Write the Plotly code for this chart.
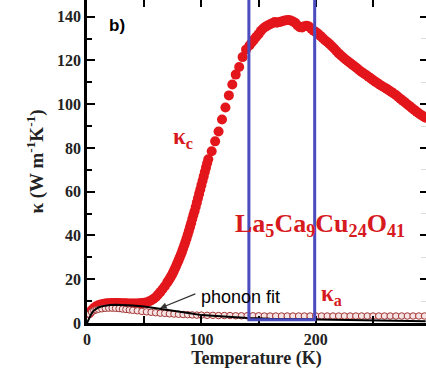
import plotly.graph_objects as go

# kappa_c (red filled circles)
T_c = [2, 4, 6, 8, 10, 12, 14, 16, 18, 20, 22, 24, 26, 28, 30, 32, 34, 36, 38, 40, 42, 44, 46, 48, 50,
       52, 54, 56, 58, 60, 62, 64, 66, 68, 70,
       71, 72, 73, 74, 75, 76, 77, 78, 79, 80,
       81, 82, 83, 84, 85, 86, 87, 88, 89, 90,
       91, 92, 93, 94, 95, 96, 97, 98, 99, 100,
       101, 102, 103, 104, 105, 106,
       109, 112, 115, 118, 121, 124, 127, 130, 133, 136, 139,
       142, 144, 146, 148, 150, 152, 154, 156, 158, 160,
       162, 164, 166, 168, 170, 172, 174, 176, 178, 180,
       182, 184, 186, 188, 190, 192, 194, 196, 198, 200,
       202, 204, 206, 208, 210, 212, 214, 216, 218, 220,
       222, 224, 226, 228, 230, 232, 234, 236, 238, 240,
       242, 244, 246, 248, 250, 252, 254, 256, 258, 260,
       262, 264, 266, 268, 270, 272, 274, 276, 278, 280,
       282, 284, 286, 288, 290, 292, 294, 296]
K_c = [4.5, 5.8, 6.8, 7.6, 8.1, 8.5, 8.7, 8.9, 9.0, 9.0, 9.1, 9.1, 9.1, 9.1, 9.0, 9.0, 9.0, 8.9, 8.9, 8.9, 8.9, 8.9, 9.0, 9.1, 9.2,
       9.4, 9.8, 10.3, 11.0, 11.8, 12.9, 14.1, 15.4, 16.8, 18.4,
       19.2, 20.0, 20.9, 21.8, 22.8, 23.9, 25.0, 26.2, 27.4, 28.6,
       29.9, 31.2, 32.5, 34.0, 35.5, 37.0, 38.6, 40.3, 42.0, 43.8,
       45.6, 47.5, 49.3, 51.1, 53.0, 55.0, 57.0, 59.0, 61.0, 63.0,
       65.0, 67.0, 69.0, 71.0, 73.0, 74.8,
       78.5, 83.0, 87.5, 93.0, 98.5, 104.0, 109.0, 113.5, 117.0, 121.5, 125.0,
       126.8, 128.2, 129.5, 130.8, 132.0, 133.5, 134.6, 135.4, 136.0, 136.5,
       137.0, 137.5, 137.2, 137.5, 137.8, 138.1, 138.4, 138.5, 138.2, 137.8,
       137.2, 136.0, 135.2, 135.0, 135.6, 135.8, 135.5, 134.5, 133.6, 133.0,
       132.2, 131.2, 130.2, 129.2, 128.4, 127.5, 126.5, 125.4, 124.3, 123.2,
       122.2, 121.3, 120.4, 119.6, 118.8, 118.0, 117.2, 116.4, 115.5, 114.7,
       114.0, 113.3, 112.5, 111.8, 111.0, 110.3, 109.6, 108.9, 108.2, 107.6,
       107.0, 106.3, 105.6, 104.9, 104.2, 103.3, 102.4, 101.6, 100.8, 99.9,
       99.1, 98.2, 97.4, 96.6, 95.8, 95.1, 94.4, 93.8]

# kappa_a (open circles)
T_a = [2, 4, 6, 8, 10, 13, 16, 19, 22, 25, 28, 31, 34, 37, 40, 44, 48, 52, 56, 60,
       64, 68, 72, 76, 80, 84, 88, 92, 96, 100, 105, 110, 115, 120, 125, 130, 135, 140, 145, 150,
       155, 160, 165, 170, 175, 180, 185, 190, 195, 200, 205, 210, 215, 220, 225, 230, 235, 240, 245, 250,
       255, 260, 265, 270, 275, 280, 285, 290, 295]
K_a = [4.0, 5.0, 5.6, 6.0, 6.3, 6.5, 6.7, 6.8, 6.8, 6.7, 6.6, 6.4, 6.2, 6.0, 5.8, 5.6, 5.3, 5.1, 4.9, 4.7,
       4.5, 4.4, 4.2, 4.1, 4.0, 3.9, 3.8, 3.7, 3.6, 3.6, 3.5, 3.5, 3.4, 3.4, 3.4, 3.3, 3.3, 3.3, 3.3, 3.3,
       3.2, 3.2, 3.2, 3.2, 3.2, 3.2, 3.2, 3.2, 3.2, 3.2, 3.2, 3.2, 3.2, 3.2, 3.2, 3.2, 3.2, 3.2, 3.2, 3.2,
       3.2, 3.2, 3.2, 3.2, 3.2, 3.2, 3.2, 3.2, 3.2]

# phonon fit (black line)
T_fit = [0, 1, 2, 3, 4, 6, 8, 10, 13, 16, 20, 25, 30, 35, 40, 50, 60, 70, 80, 90,
         100, 120, 140, 160, 180, 200, 230, 260, 296]
K_fit = [0, 1.2, 2.4, 3.5, 4.4, 5.7, 6.5, 7.1, 7.6, 7.9, 8.2, 8.3, 8.3, 8.2, 8.0, 7.5, 6.8, 6.0, 5.2, 4.5,
         3.6, 2.8, 2.3, 1.9, 1.7, 1.5, 1.2, 1.0, 0.8]

X_RANGE = [0, 296.3]
Y_RANGE = [0, 147.6]
RED = "#e3161c"
TXT_RED = "#d71920"
SERIF = "Liberation Serif"

fig = go.Figure()
fig.add_trace(go.Scatter(x=T_c, y=K_c, mode="markers",
                         marker=dict(size=10, color=RED, line=dict(width=0)),
                         showlegend=False))
fig.add_trace(go.Scatter(x=T_a, y=K_a, mode="markers",
                         marker=dict(size=6.5, color="#f6e4e4", line=dict(width=1, color="#a23434")),
                         showlegend=False))
fig.add_trace(go.Scatter(x=T_fit, y=K_fit, mode="lines",
                         line=dict(color="black", width=2), showlegend=False))
# dummy trace for secondary (mirror) axes
fig.add_trace(go.Scatter(x=[None], y=[None], xaxis="x2", yaxis="y2", showlegend=False))

fig.add_shape(type="rect", xref="x", yref="y", x0=141.5, x1=199, y0=1.5, y1=170,
              line=dict(color="#4b4cbd", width=3), fillcolor="rgba(0,0,0,0)", layer="above")

tickfont = dict(family=SERIF, size=16, color="#222", weight="bold")

fig.update_layout(
    width=426, height=379,
    margin=dict(l=87, r=0, t=0, b=56),
    paper_bgcolor="white", plot_bgcolor="white",
    xaxis=dict(range=X_RANGE, showgrid=False, zeroline=False,
               showline=True, linecolor="black", linewidth=2.5,
               ticks="inside", ticklen=7, tickwidth=1.5, tickcolor="black",
               dtick=100, tick0=0, tickfont=tickfont,
               minor=dict(dtick=50, ticks="inside", ticklen=7, tickwidth=1.5, tickcolor="black"),
               title=dict(text="Temperature (K)", standoff=5,
                          font=dict(family=SERIF, size=18, color="#222", weight="bold"))),
    yaxis=dict(range=Y_RANGE, showgrid=False, zeroline=False,
               showline=True, linecolor="black", linewidth=2.5,
               ticks="inside", ticklen=8, tickwidth=1.5, tickcolor="black",
               dtick=20, tick0=0, tickfont=tickfont,
               minor=dict(dtick=10, ticks="inside", ticklen=5, tickwidth=1.5, tickcolor="black"),
               title=dict(text="κ (W m<sup>-1</sup>K<sup>-1</sup>)", standoff=9,
                          font=dict(family=SERIF, size=19, color="#222", weight="bold"))),
    xaxis2=dict(range=X_RANGE, overlaying="x", side="top", showgrid=False, zeroline=False,
                showline=False, showticklabels=False,
                ticks="inside", ticklen=7, tickwidth=1.5, tickcolor="black",
                tickvals=[50, 100, 150, 200, 250]),
    yaxis2=dict(range=Y_RANGE, overlaying="y", side="right", showgrid=False, zeroline=False,
                showline=False, showticklabels=False,
                ticks="inside", ticklen=6, tickwidth=1.5, tickcolor="black", dtick=20, tick0=0,
                minor=dict(dtick=10, ticks="inside", ticklen=5, tickwidth=1, tickcolor="#ddd")),
)

fig.add_annotation(xref="paper", yref="paper", x=0.058, y=0.957, text="<b>b)</b>",
                   showarrow=False, font=dict(family="Liberation Sans", size=17, color="black"))
fig.add_annotation(x=83.7, y=84.5, text="<b>κ<sub>c</sub></b>", showarrow=False,
                   font=dict(family=SERIF, size=23, color=TXT_RED))
fig.add_annotation(x=203.8, y=44.8,
                   text="<b>La<sub>5</sub>Ca<sub>9</sub>Cu<sub>24</sub>O<sub>41</sub></b>",
                   showarrow=False, font=dict(family=SERIF, size=26, color=TXT_RED))
fig.add_annotation(x=214, y=12.8, text="<b>κ<sub>a</sub></b>", showarrow=False,
                   font=dict(family=SERIF, size=23, color=TXT_RED))
fig.add_annotation(x=97.5, y=11.9, text="phonon fit", showarrow=False, xanchor="left",
                   font=dict(family="Liberation Sans", size=18, color="black"))
fig.add_annotation(x=64, y=6.8, ax=96, ay=13.6, axref="x", ayref="y", text="",
                   showarrow=True, arrowhead=2, arrowsize=1, arrowwidth=1.3, arrowcolor="#333")

fig.write_html("out.html")
